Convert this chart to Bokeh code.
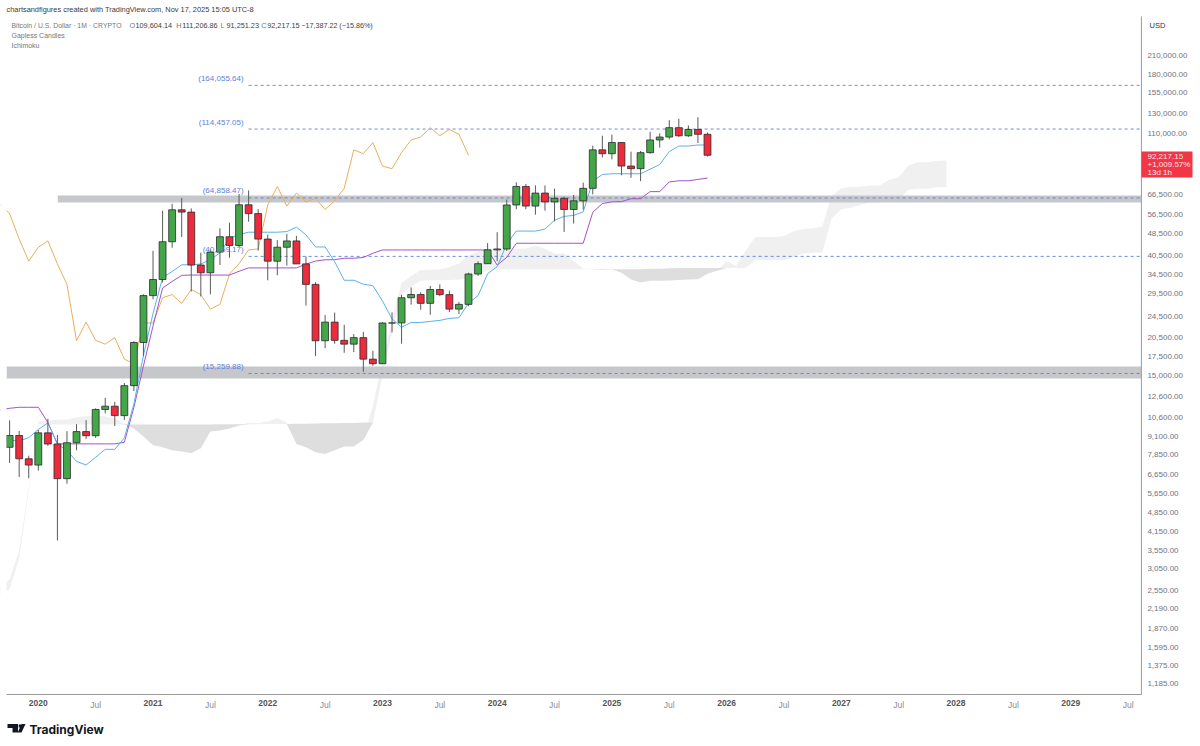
from bokeh.embed import file_html
from bokeh.resources import INLINE
from bokeh.plotting import figure
from bokeh.core.properties import value
from bokeh.models import (Range1d, FixedTicker, LogAxis, LinearAxis, NumeralTickFormatter, LogScale,
                          Label, BoxAnnotation, PolyAnnotation)
import numpy as np

FONT = "Liberation Sans"

# months are counted from Jan 2020 = 0
first_candle = -3
opens = [8300,9150,7550,7170,9350,8530,6410,8620,9450,9135,11340,11650,10780,13800,19700,
         28990,33100,45200,58800,57700,37300,35000,41500,47100,43800,61300,57000,46200,38500,43200,
         45500,37650,31800,19980,23300,20050,19430,20500,17170,16540,23130,23140,28480,29250,27200,
         30480,29230,25940,26970,34650,37720,42280,42580,61200,71300,60650,67500,62770,64620,58970,
         63330,70200,96400,93400,102400,84350,82550,94200,104600,107150,115750,108270,114050,109604]
highs = [10370,9500,7750,9580,10500,9190,9480,10050,10380,11450,12480,12080,14100,19900,29300,
         41950,58350,61780,64850,59500,41300,42400,50500,52900,67000,69000,59100,47950,45800,48200,
         47450,40000,32400,24700,25200,22800,21100,21500,18400,23300,25250,29200,31000,29800,31400,
         31800,30200,27500,35000,38450,44700,48900,64000,73800,72800,71950,71900,70000,65600,66500,
         73600,99800,108350,109350,102500,95000,95500,111900,110400,123200,124500,117900,126200,111206]
lows = [7300,6500,6430,6850,8400,3850,6150,8100,8900,8970,10980,9900,10400,13200,17600,
        28130,32300,43000,47000,30000,28800,29300,37300,39600,43300,53300,42000,32900,34300,37100,
        37700,26700,17600,18800,19500,18100,18200,15476,16250,16500,21400,19500,26900,25800,24750,
        28850,25300,24900,26550,34100,37600,38500,41900,59100,59100,56500,58400,53500,49000,52500,
        58900,66800,90500,89200,78200,76600,74500,93400,98200,105100,107300,107250,102000,91251]
closes = [9150,7550,7170,9350,8530,6410,8620,9450,9135,11340,11650,10780,13800,19700,28990,
          33100,45200,58800,57700,37300,35000,41500,47100,43800,61300,57000,46200,38500,43200,45500,
          37650,31800,19980,23300,20050,19430,20500,17170,16540,23130,23140,28480,29250,27200,30480,
          29230,25940,26970,34650,37720,42280,42580,61200,71300,60650,67500,62770,64620,58970,63330,
          70200,96400,93400,102400,84350,82550,94200,104600,107150,115750,108270,114050,109600,92217]

tenkan_start = -3
tenkan = [8800,8740,8990,9615,10155,8525,8087,7390,7175,7650,8165,8165,8975,11875,17725,
          25025,33625,35375,37375,37375,37625,39025,41225,46490,47900,48900,48900,48900,48900,49150,
          50950,47850,43300,43300,38350,32900,32900,31838,31463,27738,23938,22338,23238,23238,23438,
          23638,24025,24150,27250,28975,34725,36825,44375,49350,49350,49350,50175,53950,55700,56150,
          57850,74400,78675,79175,79175,79175,79175,82200,85400,95000,99500,99500,100350,100350]

kijun_start = -4
kijun = [11300,11450,11545,11545,11545,10185,8540,8540,8540,8540,8540,8540,8540,8650,11550,
         16250,22575,30850,32575,34260,34350,34350,34350,34350,34350,35425,36425,36425,36425,36425,
         36425,36425,37575,38550,38950,38985,39450,39450,39700,41100,42238,42238,42238,42238,42238,
         42238,42238,42238,42238,42238,42238,42238,37288,39738,44638,44638,44638,44638,44638,44638,
         44638,44638,57638,61913,62800,62925,64425,64425,68325,68325,73975,74700,74700,75550,76375]

chikou_start = -4
chikou = [61300,57000,46200,38500,43200,45500,37650,31800,19980,23300,20050,19430,20500,17170,16540,
          23130,23140,28480,29250,27200,30480,29230,25940,26970,34650,37720,42280,42580,61200,71300,
          60650,67500,62770,64620,58970,63330,70200,96400,93400,102400,84350,82550,94200,104600,107150,
          115750,108270,114050,109600,92217]

span_start = -4
span_a = [2600,2800,3550,5975,10265,10330,10450,10450,10640,10730,10790,10700,10520,10100,9695,
          9075,8435,8300,8100,8020,7900,8230,9450,9530,9695,9930,10170,10140,10270,10580,
          10170,8530,8310,7965,7860,8095,8350,8350,8810,11710,16990,23800,32240,33975,35820,
          35860,35990,36690,37790,40420,41660,42660,42660,42660,42660,42790,43690,42710,40925,41125,
          38670,36175,36175,35770,36280,34990,33090,32290,32740,32740,32840,32940,33130,33195,34745,
          35605,38480,37060,42055,46995,46995,46995,47405,49295,50170,50395,51245,66020,70295,70990,
          71050,71800,71800,75260,76860,84490,87100,87100,87950,88360]
span_b = [2476,2575,3310,5775,10020,10020,10020,10020,10020,10020,10020,10020,10020,10020,10020,
          10020,10020,10020,10020,10020,10020,10020,10020,10030,10030,10030,10030,10030,10060,10060,
          10070,10080,10090,10100,10120,10130,10140,10150,10180,10190,14935,21275,29525,31260,32795,
          32875,32870,32955,33090,33340,34415,35800,35985,36060,36060,36060,36060,36060,36060,36060,
          36060,36060,36060,36060,36060,36060,36060,36060,36175,36185,36335,36425,36425,36425,36425,
          36425,36425,36425,36425,38825,38825,38825,38825,39975,40950,41350,41385,54850,59125,59875,
          61275,62413,62413,63688,63688,69338,69988,69988,70838,70838]

levels = [164055.64, 114457.05, 64858.47, 40059.17, 15259.88]
level_labels = ["(164,055.64)", "(114,457.05)", "(64,858.47)", "(40,059.17)", "(15,259.88)"]
level_start_month = 22

zone_tops = [66170, 16160]
zone_bottoms = [62490, 14640]
zone_start_months = [2.04, -3.33]

price_ticks = [210000,180000,155000,130000,110000,66500,56500,48500,40500,34500,29500,24500,20500,
               17500,15000,12600,10600,9100,7850,6650,5650,4850,4150,3550,3050,2550,2190,1870,1595,1375,1185]
year_ticks = [0,12,24,36,48,60,72,84,96,108]
year_labels = ["2020","2021","2022","2023","2024","2025","2026","2027","2028","2029"]
half_ticks = [6,18,30,42,54,66,78,90,102,114]
half_labels = ["Jul"]*10

# the plotting frame fills the page; the chart pane sits inside it
PANE_LEFT, PANE_RIGHT = -3.33, 115.39
PANE_BOTTOM, PANE_TOP = 1081.6, 289500

GREEN, RED = "#43a74a", "#ee2b3d"
GRID_LINE = "#9b9b9b"

p = figure(width=1200, height=746, output_backend="svg", toolbar_location=None,
           x_axis_type=None, y_axis_type=None,
           x_range=Range1d(-3.954, 121.57), y_range=Range1d(704.6, 330240),
           min_border=0, background_fill_color="white", border_fill_color="white",
           outline_line_color=None, margin=(0, 0, 0, 0))
p.y_scale = LogScale()

# cloud
sx = np.arange(span_start, span_start + len(span_a))
a, b = np.array(span_a, float), np.array(span_b, float)
p.varea(sx, np.minimum(a, b), a, fill_color="#f0f0f0")
p.varea(sx, np.minimum(a, b), b, fill_color="#dedede")

# zones
p.quad(left=zone_start_months, right=[PANE_RIGHT]*2, top=zone_tops, bottom=zone_bottoms,
       fill_color="#c6c7cb", line_color=None)

# levels
p.segment(x0=[level_start_month]*5, x1=[PANE_RIGHT]*5, y0=levels, y1=levels, line_color="#5b80de",
          line_width=1, line_alpha=0.9, line_dash="3 3")

# ichimoku lines
p.line(np.arange(chikou_start, chikou_start + len(chikou)), chikou, line_color="#e9ae5f", line_width=1)
p.line(np.arange(kijun_start, kijun_start + len(kijun)), kijun, line_color="#a552c8", line_width=1)
p.line(np.arange(tenkan_start, tenkan_start + len(tenkan)), tenkan, line_color="#5bb0e8", line_width=1)

# candles
cx = np.arange(first_candle, first_candle + len(opens))
o, c = np.array(opens, float), np.array(closes, float)
p.segment(cx, lows, cx, highs, line_color="#5a5a5a", line_width=1)
cols = [GREEN if cc >= oo else RED for oo, cc in zip(opens, closes)]
p.vbar(x=cx, top=np.maximum(o, c), bottom=np.minimum(o, c), width=0.72, fill_color=cols,
       line_color="#2a2a2a", line_width=0.8)

# pane edge: hide what runs past the left side, then draw the axis lines
p.quad(left=[-3.954], right=[PANE_LEFT], top=[330240], bottom=[704.6], fill_color="white", line_color=None)
p.segment(x0=[PANE_LEFT, PANE_RIGHT], x1=[PANE_RIGHT, PANE_RIGHT], y0=[PANE_BOTTOM, PANE_BOTTOM],
          y1=[PANE_BOTTOM, PANE_TOP], line_color=GRID_LINE, line_width=1)

# level labels
p.text(x=[level_start_month]*5, y=levels, text=level_labels, text_align="right", text_baseline="middle",
       x_offset=-5, y_offset=-7, text_font=value(FONT), text_font_size="8px", text_color="#5b80de")

# price axis
yax = LogAxis(ticker=FixedTicker(ticks=price_ticks), formatter=NumeralTickFormatter(format="0,0.00"),
              fixed_location=PANE_RIGHT, axis_line_color=None, major_tick_line_color=None,
              minor_tick_line_color=None, major_tick_out=0, minor_tick_out=0, major_label_standoff=6,
              major_label_text_font=FONT, major_label_text_font_size="8px", major_label_text_color="#6f7280")
p.add_layout(yax, "right")

# time axes
xax = LinearAxis(ticker=FixedTicker(ticks=half_ticks), fixed_location=PANE_BOTTOM,
                 major_label_overrides={t: s for t, s in zip(half_ticks, half_labels)},
                 axis_line_color=None, major_tick_line_color=None, minor_tick_line_color=None,
                 major_tick_out=0, minor_tick_out=0, major_label_standoff=5, major_label_text_font=FONT,
                 major_label_text_font_size="8.5px", major_label_text_color="#8a8d96")
p.add_layout(xax, "below")
yrax = LinearAxis(ticker=FixedTicker(ticks=year_ticks), fixed_location=PANE_BOTTOM,
                  major_label_overrides={t: s for t, s in zip(year_ticks, year_labels)},
                  axis_line_color=None, major_tick_line_color=None, minor_tick_line_color=None,
                  major_tick_out=0, minor_tick_out=0, major_label_standoff=5, major_label_text_font=FONT,
                  major_label_text_font_size="8.5px", major_label_text_font_style="bold", major_label_text_color="#555555")
p.add_layout(yrax, "below")

def lab(x, y, text, color="#777777", size="7.3px", style="normal", font=FONT):
    p.add_layout(Label(x=x, y=y, x_units="canvas", y_units="canvas", text=text, text_color=color,
                       text_font_size=size, text_font_style=style, text_font=font,
                       text_baseline="middle", text_align="left", level="overlay"))

lab(6, 9, "chartsandfigures created with TradingView.com, Nov 17, 2025 15:05 UTC-8", "#3a3a3a", "7.4px")
lab(11, 25, "Bitcoin / U.S. Dollar · 1M · CRYPTO", size="6.9px")
legend_items = [(129, "O"), (175.7, "H"), (220, "L"), (260.7, "C")]
legend_vals = ["109,604.14", "111,206.86", "91,251.23", "92,217.15"]
for (x, k), v in zip(legend_items, legend_vals):
    lab(x, 25, k)
    lab(x + 6, 25, v, "#3f3f3f")
lab(300.7, 25, "−17,387.22 (−15.86%)", "#3f3f3f", "7.2px")
lab(11, 35, "Gapless Candles", size="7px")
lab(11, 45, "Ichimoku", size="7px")
lab(1149, 25, "USD", "#333333", "7.5px")

p.add_layout(BoxAnnotation(left=1141, right=1192, top=151, bottom=177, left_units="canvas", right_units="canvas",
                           top_units="canvas", bottom_units="canvas", fill_color="#f23645", fill_alpha=1,
                           line_color=None, level="overlay"))
lab(1147, 155.5, "92,217.15", "#ffe3e6", "8px")
lab(1147, 163.5, "+1,009.57%", "#ffe3e6", "8px")
lab(1147, 172, "13d 1h", "#ffe3e6", "8px")

# TradingView logo
def poly(xs, ys):
    p.add_layout(PolyAnnotation(xs=xs, ys=ys, xs_units="canvas", ys_units="canvas", fill_color="#131722",
                                fill_alpha=1, line_color=None, level="overlay"))
poly([7, 17.5, 17.5, 12, 12, 7], [723.5, 723.5, 732, 732, 727.5, 727.5])
poly([21, 25, 21, 17.2], [723.5, 723.5, 732, 732])
poly([18.2, 20.6, 20.6, 18.2], [724, 724, 727, 727])
lab(29, 728.5, "TradingView", "#131722", "12px", "bold", "Inter")

open("out.html", "w").write(file_html(p, INLINE))
